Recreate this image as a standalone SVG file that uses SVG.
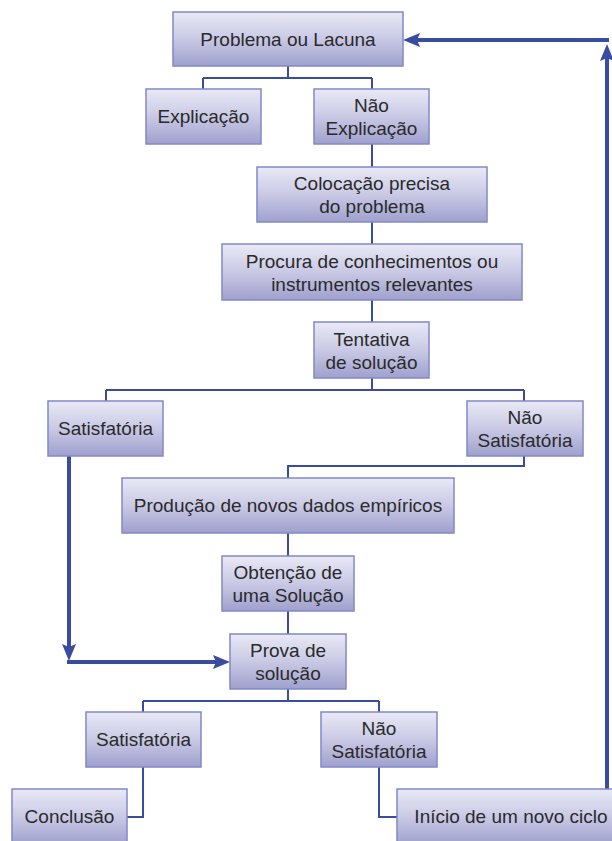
<svg xmlns="http://www.w3.org/2000/svg" width="612" height="841" viewBox="0 0 612 841">
<defs>
<linearGradient id="g" x1="0" y1="0" x2="0" y2="1">
<stop offset="0" stop-color="#e9e9f6"/>
<stop offset="0.5" stop-color="#c9c9e5"/>
<stop offset="1" stop-color="#9fa0cd"/>
</linearGradient>
<marker id="ah" viewBox="0 0 17 14" refX="5" refY="7" markerWidth="17" markerHeight="14" markerUnits="userSpaceOnUse" orient="auto">
<path d="M0,0 L17,7 L0,14 L3,7 z" fill="#3a4c9f"/>
</marker>
</defs>
<style>
.box{fill:url(#g);stroke:#8388c8;stroke-width:1.5}
.t{font-family:"Liberation Sans",Arial,sans-serif;font-size:19px;fill:#2a2a2a;text-anchor:middle}
.c{fill:none;stroke:#3a4c9f;stroke-width:2}
.k{fill:none;stroke:#3a4c9f;stroke-width:4}
</style>
<rect width="612" height="841" fill="#ffffff"/>
<g id="connectors">
<path class="c" d="M288,66 V78 M203,78 H372 M203,78 V89 M372,78 V89"/>
<path class="c" d="M372,144 V167"/>
<path class="c" d="M372,222 V244"/>
<path class="c" d="M372,300 V322"/>
<path class="c" d="M372,378 V390 M106,390 H524 M106,390 V401 M524,390 V401"/>
<path class="c" d="M524,456 V466 H288 V478"/>
<path class="c" d="M288,533 V556"/>
<path class="c" d="M288,611 V634"/>
<path class="c" d="M288,689 V701 M143,701 H379 M143,701 V712 M379,701 V712"/>
<path class="c" d="M143,767 V817 H127"/>
<path class="c" d="M379,767 V817 H397"/>
<path class="k" d="M69,456 V649" marker-end="url(#ah)"/>
<path class="k" d="M67,662 H218" marker-end="url(#ah)"/>
<path class="k" d="M607,789 V56" marker-end="url(#ah)"/>
<path class="k" d="M609,40 H415" marker-end="url(#ah)"/>
</g>
<g id="n-problema"><rect class="box" x="173" y="12" width="230" height="54"/><text class="t" x="288" y="46">Problema ou Lacuna</text></g>
<g id="n-explicacao"><rect class="box" x="146" y="89" width="115" height="55"/><text class="t" x="203.5" y="123">Explicação</text></g>
<g id="n-nao-explicacao"><rect class="box" x="314" y="89" width="115" height="55"/><text class="t" x="371.5" y="112">Não</text><text class="t" x="371.5" y="135">Explicação</text></g>
<g id="n-colocacao"><rect class="box" x="257" y="167" width="230" height="55"/><text class="t" x="372" y="190">Colocação precisa</text><text class="t" x="372" y="213">do problema</text></g>
<g id="n-procura"><rect class="box" x="222" y="244" width="300" height="56"/><text class="t" x="372" y="267.5">Procura de conhecimentos ou</text><text class="t" x="372" y="290.5">instrumentos relevantes</text></g>
<g id="n-tentativa"><rect class="box" x="314" y="322" width="115" height="56"/><text class="t" x="371.5" y="345.5">Tentativa</text><text class="t" x="371.5" y="368.5">de solução</text></g>
<g id="n-satisfatoria1"><rect class="box" x="48" y="401" width="115" height="55"/><text class="t" x="105.5" y="435">Satisfatória</text></g>
<g id="n-nao-satisfatoria1"><rect class="box" x="467" y="401" width="116" height="55"/><text class="t" x="525" y="424">Não</text><text class="t" x="525" y="447">Satisfatória</text></g>
<g id="n-producao"><rect class="box" x="122" y="478" width="332" height="55"/><text class="t" x="288" y="512">Produção de novos dados empíricos</text></g>
<g id="n-obtencao"><rect class="box" x="222" y="556" width="132" height="55"/><text class="t" x="288" y="579">Obtenção de</text><text class="t" x="288" y="602">uma Solução</text></g>
<g id="n-prova"><rect class="box" x="230" y="634" width="116" height="55"/><text class="t" x="288" y="657">Prova de</text><text class="t" x="288" y="680">solução</text></g>
<g id="n-satisfatoria2"><rect class="box" x="86" y="712" width="115" height="55"/><text class="t" x="143.5" y="746">Satisfatória</text></g>
<g id="n-nao-satisfatoria2"><rect class="box" x="321" y="712" width="116" height="55"/><text class="t" x="379" y="735">Não</text><text class="t" x="379" y="758">Satisfatória</text></g>
<g id="n-conclusao"><rect class="box" x="12" y="789" width="115" height="56"/><text class="t" x="69.5" y="823">Conclusão</text></g>
<g id="n-inicio"><rect class="box" x="397" y="789" width="228" height="56"/><text class="t" x="511" y="823">Início de um novo ciclo</text></g>
</svg>
